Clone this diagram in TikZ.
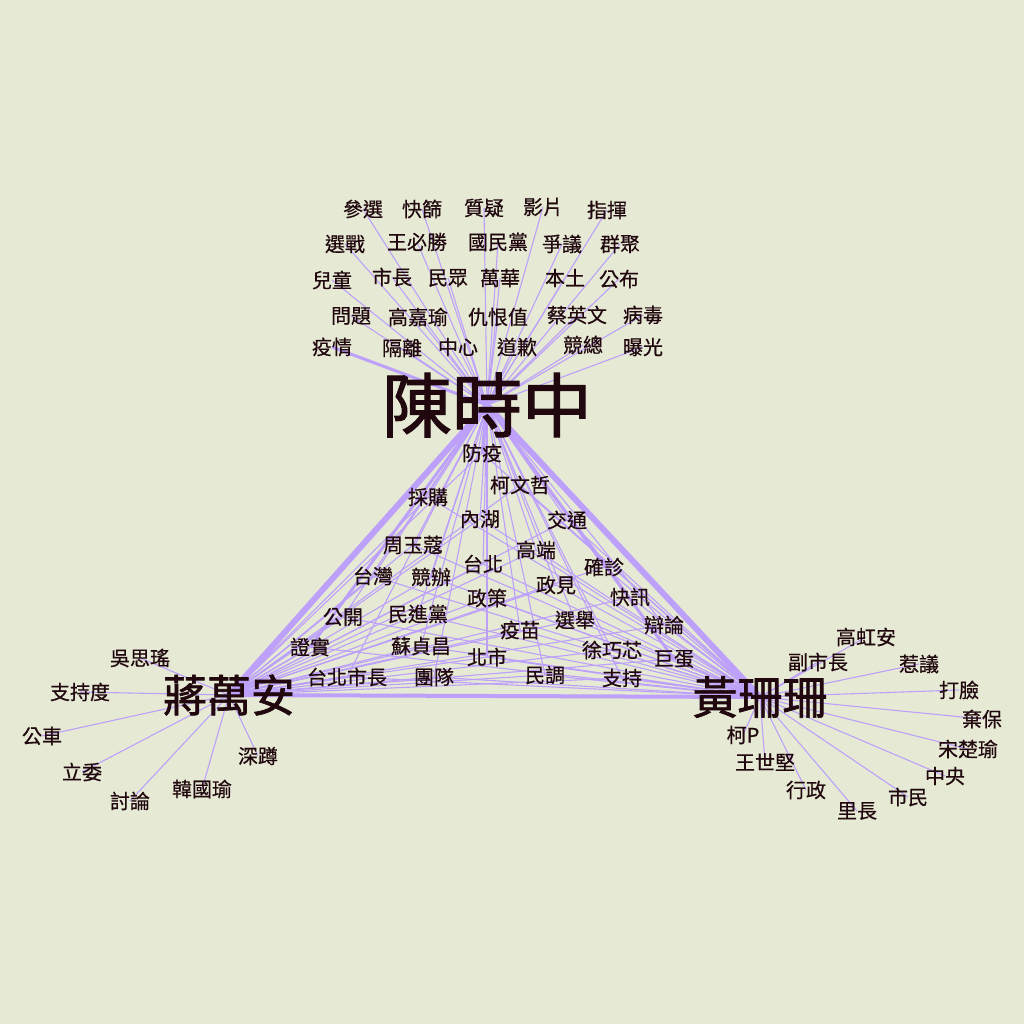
\documentclass[tikz,border=0pt]{standalone}
\usepackage{fontspec}
\setmainfont{Noto Sans CJK TC}[FakeBold=0.5]
\newfontfamily\hubfont{Noto Sans CJK TC}[FakeBold=1.5]
\definecolor{bgc}{RGB}{230,234,213}
\definecolor{edgec}{RGB}{188,160,250}
\definecolor{inkc}{RGB}{32,8,14}
\pgfdeclarelayer{bg}
\pgfsetlayers{bg,main}
\tikzset{word/.style={inner sep=1pt, text=inkc, font=\fontsize{20}{20}\selectfont},
  hub/.style={inner sep=2pt, text=inkc},
  edge/.style={draw=edgec, line width=1.1pt},
  hubedge/.style={draw=edgec, line width=6pt}}

\begin{document}
\begin{tikzpicture}[x=1pt, y=-1pt]
        \begin{pgfonlayer}{bg}\fill[bgc] (0,0) rectangle (1024,1024);\end{pgfonlayer}
        \node[hub, font=\hubfont\fontsize{70}{70}\selectfont] (chen) at (487,405) {陳時中};
        \node[hub, font=\hubfont\fontsize{44}{44}\selectfont] (chiang) at (229,695) {蔣萬安};
        \node[hub, font=\hubfont\fontsize{45}{45}\selectfont] (huang) at (760,697) {黃珊珊};

        % words of chen only
        \foreach \n/\x/\y/\t in {t1/363/209/參選, t2/422/209/快篩, t3/484/208/質疑, t4/543/207/影片, t5/607/210/指揮,
            t6/345/244/選戰, t7/417/242/王必勝, t8/498/242/國民黨, t9/562/244/爭議, t10/620/244/群聚,
            t11/332/280/兒童, t12/392/277/市長, t13/448/278/民眾, t14/500/278/萬華, t15/565/278/本土, t16/619/279/公布,
            t17/351/316/問題, t18/418/317/高嘉瑜, t19/498/317/仇恨值, t20/577/315/蔡英文, t21/643/315/病毒,
            t22/332/347/疫情, t23/402/348/隔離, t24/458/347/中心, t25/517/347/道歉, t26/583/345/競總, t27/643/347/曝光}
            {\node[word] (\n) at (\x,\y) {\t};
             \begin{pgfonlayer}{bg}\draw[edge] (chen.center) -- (\n.center);\end{pgfonlayer}}

        % shared words
        \foreach \n/\x/\y/\t in {m1/482/453/防疫, m2/520/485/柯文哲, m3/428/497/採購, m4/480/519/內湖, m5/567/520/交通,
            m6/413/545/周玉蔻, m7/536/550/高端, m8/483/564/台北, m9/604/567/確診, m10/373/576/台灣, m11/431/577/競辦,
            m12/556/585/政見, m13/487/598/政策, m14/630/597/快訊, m15/343/617/公開, m16/418/614/民進黨, m17/575/620/選舉,
            m18/520/630/疫苗, m19/664/625/辯論, m20/310/647/證實, m21/421/646/蘇貞昌, m22/612/650/徐巧芯, m23/487/657/北市,
            m24/674/659/巨蛋, m25/347/677/台北市長, m26/434/677/團隊, m27/545/675/民調, m28/622/678/支持}
            {\node[word] (\n) at (\x,\y) {\t};
             \begin{pgfonlayer}{bg}\draw[edge] (chen.center) -- (\n.center); \draw[edge] (chiang.center) -- (\n.center); \draw[edge] (huang.center) -- (\n.center);\end{pgfonlayer}}

        % words of chiang only
        \foreach \n/\x/\y/\t in {j1/140/658/吳思瑤, j2/80/692/支持度, j3/42/736/公車, j4/82/772/立委, j5/130/801/討論, j6/202/789/韓國瑜, j7/258/756/深蹲}
            {\node[word] (\n) at (\x,\y) {\t};
             \begin{pgfonlayer}{bg}\draw[edge] (chiang.center) -- (\n.center);\end{pgfonlayer}}

        % words of huang only
        \foreach \n/\x/\y/\t in {h1/866/637/高虹安, h2/818/662/副市長, h3/919/664/惹議, h4/959/690/打臉, h5/982/719/棄保, h6/968/749/宋楚瑜,
            h7/945/776/中央, h8/908/797/市民, h9/857/811/里長, h10/806/790/行政, h11/765/762/王世堅, h12/743/735/柯P}
            {\node[word] (\n) at (\x,\y) {\t};
             \begin{pgfonlayer}{bg}\draw[edge] (huang.center) -- (\n.center);\end{pgfonlayer}}

        \begin{pgfonlayer}{bg}
            \draw[hubedge] (chen.center) -- (chiang.center); \draw[hubedge] (chen.center) -- (huang.center); \draw[hubedge, line width=4pt] (chiang.center) -- (huang.center);
            \draw[edge, line width=3pt] (chen.center) -- (t22.center); \draw[edge, line width=3pt] (chen.center) -- (m1.center); \draw[edge, line width=3pt] (chen.center) -- (m24.center);
            \draw[edge, line width=3pt] (chen.center) -- (m20.center);
        \end{pgfonlayer}
    \end{tikzpicture}
\end{document}
